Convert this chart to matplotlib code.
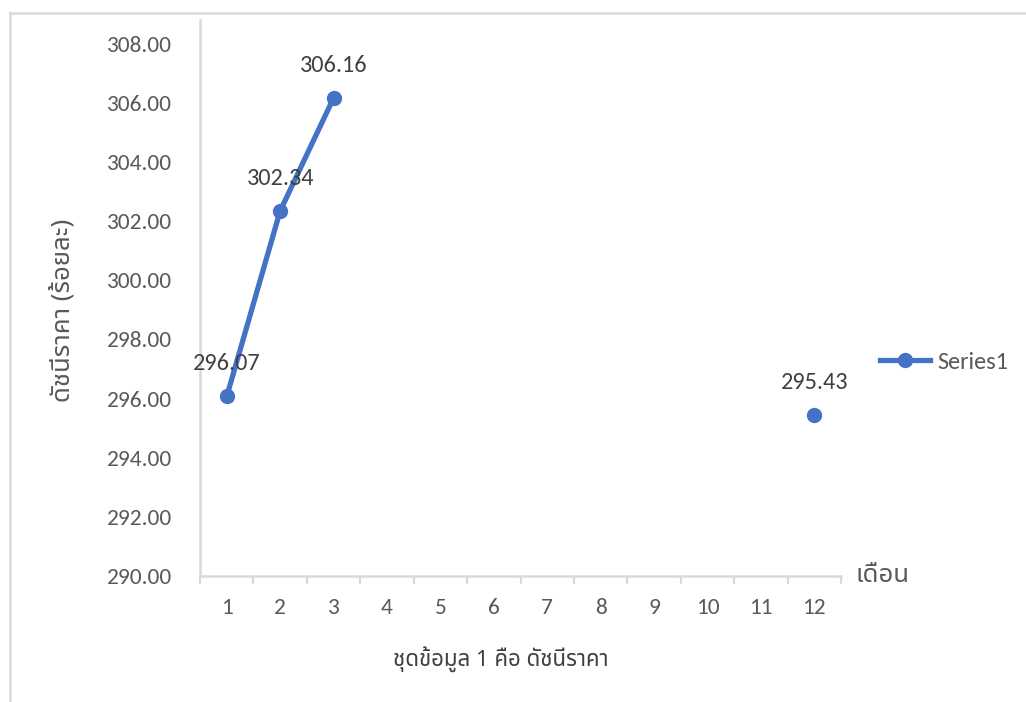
import matplotlib
matplotlib.use("Agg")
import matplotlib.pyplot as plt
from matplotlib import font_manager
from matplotlib.lines import Line2D
import numpy as np

# data
months = [1, 2, 3, 4, 5, 6, 7, 8, 9, 10, 11, 12]
price_index = [296.07, 302.34, 306.16, None, None, None, None, None, None, None, None, 295.43]
y_ticks = [290, 292, 294, 296, 298, 300, 302, 304, 306, 308]
series_name = "Series1"
y_title = "ดัชนีราคา (ร้อยละ)"
x_title = "ชุดข้อมูล 1 คือ ดัชนีราคา"
axis_title = "เดือน"

# fonts
names = {f.name for f in font_manager.fontManager.ttflist}

def pick(cands, default):
    for c in cands:
        if c in names:
            return c
    return default

num_font = pick(["Carlito", "Open Sans", "Liberation Sans"], "DejaVu Sans")
thai_font = pick(["Noto Sans Thai", "Noto Sans Thai Looped", "Sarabun", "Anuphan", "Bai Jamjuree"], "DejaVu Sans")
plt.rcParams["font.family"] = [num_font, thai_font, "DejaVu Sans"]

grey = "#595959"
line_grey = "#D9D9D9"
blue = "#4472C4"

fig = plt.figure(figsize=(10.26, 7.02), dpi=100)
W, H = 1026, 702
ax = fig.add_axes([200 / W, 1 - 576 / H, 641 / W, 556 / H])

vals = np.array([np.nan if v is None else v for v in price_index], dtype=float)
ax.plot(months, vals, color=blue, lw=3.8, marker="o", ms=10, solid_capstyle="round")

for m, v in zip(months, vals):
    if not np.isnan(v):
        ax.annotate(f"{v:.2f}", (m, v), xytext=(0, 33), textcoords="offset pixels",
                    ha="center", va="center", fontsize=17.5, color="#404040")

ax.set_xlim(0.5, 12.5)
ax.set_ylim(290, 308.8)
ax.set_yticks(y_ticks)
ax.set_yticklabels([f"{t:.2f}" for t in y_ticks])
ax.set_xticks(months)
ax.set_xticks(np.arange(0.5, 12.6, 1), minor=True)
ax.tick_params(axis="y", length=0, pad=20, labelsize=16.8, labelcolor=grey)
ax.tick_params(axis="x", which="major", length=0, pad=16, labelsize=16.8, labelcolor=grey)
ax.tick_params(axis="x", which="minor", length=6, width=1.5, color=line_grey, direction="out")

for s in ["top", "right"]:
    ax.spines[s].set_visible(False)
for s in ["left", "bottom"]:
    ax.spines[s].set_color(line_grey)
    ax.spines[s].set_linewidth(1.8)

ax.set_xlabel(x_title, fontsize=16, color="#404040", family=[thai_font])
ax.xaxis.set_label_coords((501 - 200) / 641, -(660 - 576) / 556)
ax.xaxis.label.set_va("center")
ax.set_ylabel(y_title, fontsize=18.5, color=grey, family=[thai_font])
ax.yaxis.set_label_coords(-(200 - 63) / 641, 1 - (310 - 20) / 556)
ax.yaxis.label.set_va("center")
fig.text(855 / W, 1 - 575 / H, axis_title, fontsize=18.5, color=grey, family=[thai_font],
         ha="left", va="center")

handle = Line2D([], [], color=blue, lw=3.8, marker="o", ms=10)
fig.legend([handle], [series_name], loc="center left", bbox_to_anchor=(880 / W, 1 - 362 / H),
           frameon=False, fontsize=17.5, labelcolor=grey, handlelength=2.06, handletextpad=0.3,
           borderaxespad=0, borderpad=0)

# outer chart border
fig.add_artist(Line2D([9.5 / W, 9.5 / W], [0, 1 - 13 / H], color=line_grey, lw=1.8))
fig.add_artist(Line2D([9.5 / W, 1], [1 - 13 / H, 1 - 13 / H], color=line_grey, lw=1.8))

fig.savefig("out.png", dpi=100)
